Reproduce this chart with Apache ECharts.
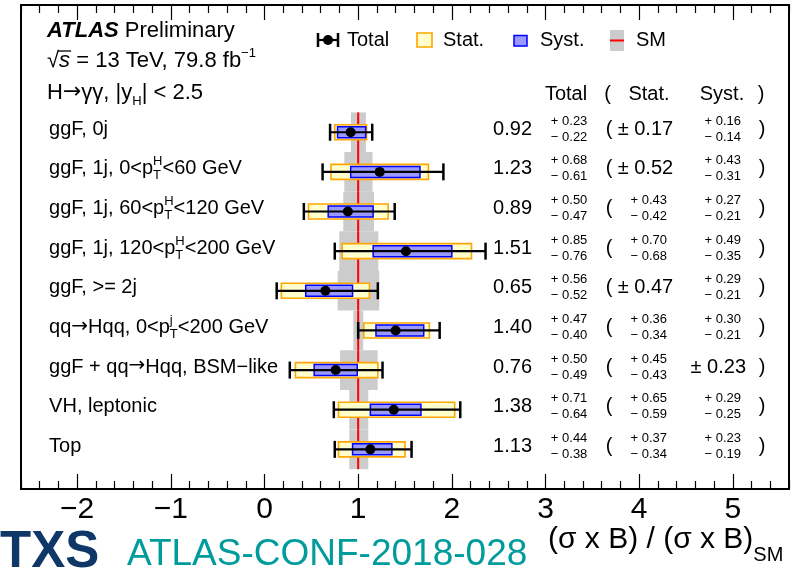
<!DOCTYPE html>
<html><head><meta charset="utf-8">
<script src="https://cdn.jsdelivr.net/npm/echarts@6/dist/echarts.min.js"></script>
<style>html,body{margin:0;padding:0;background:#fff}#c{width:801px;height:571px}</style>
</head><body><div id="c"></div>
<script>
// ---------------- data ----------------
const categories = ["ggF, 0j", "ggF, 1j, 0<p_T^H<60 GeV", "ggF, 1j, 60<p_T^H<120 GeV",
  "ggF, 1j, 120<p_T^H<200 GeV", "ggF, >= 2j", "qq\u2192Hqq, 0<p_T^j<200 GeV",
  "ggF + qq\u2192Hqq, BSM\u2212like", "VH, leptonic", "Top"];
const central = [0.92, 1.23, 0.89, 1.51, 0.65, 1.40, 0.76, 1.38, 1.13];
const totUp  = [0.23, 0.68, 0.50, 0.85, 0.56, 0.47, 0.50, 0.71, 0.44];
const totDn  = [0.22, 0.61, 0.47, 0.76, 0.52, 0.40, 0.49, 0.64, 0.38];
const statUp = [0.17, 0.52, 0.43, 0.70, 0.47, 0.36, 0.45, 0.65, 0.37];
const statDn = [0.17, 0.52, 0.42, 0.68, 0.47, 0.34, 0.43, 0.59, 0.34];
const systUp = [0.16, 0.43, 0.27, 0.49, 0.29, 0.30, 0.23, 0.29, 0.23];
const systDn = [0.14, 0.31, 0.21, 0.35, 0.21, 0.21, 0.23, 0.25, 0.19];
const smLo = [0.923, 0.852, 0.841, 0.798, 0.781, 0.948, 0.806, 0.905, 0.905];
const smHi = [1.083, 1.153, 1.169, 1.215, 1.225, 1.054, 1.208, 1.108, 1.108];
const majorTicks = [-2, -1, 0, 1, 2, 3, 4, 5];
const xMin = -2.6, xMax = 5.6;

// ---------------- helpers ----------------
const FF = '"Liberation Sans", Arial, Helvetica, sans-serif';
const AF = '"DejaVu Sans", sans-serif';
const N = categories.length;
const rowPos = categories.map((c, i) => N - i);
const minorTicks = [];
for (let k = -13; k <= 28; k++) { if (k % 5 !== 0) minorTicks.push(+(k * 0.2).toFixed(1)); }
const ctx = document.createElement('canvas').getContext('2d');
function fnt(size, weight, style, fam) { return (style || 'normal') + ' ' + (weight || 'normal') + ' ' + size + 'px ' + (fam || FF); }
function tw(t, size, weight, style, fam) { ctx.font = fnt(size, weight, style, fam); return ctx.measureText(t).width; }
function textEl(t, x, y, size, opt) {
  opt = opt || {};
  return { type: 'text', x: x, y: y, z2: 10, style: { text: t, x: 0, y: 0, fill: opt.color || '#000',
    font: fnt(size, opt.weight, opt.style, opt.fam), textAlign: opt.align || 'left', textVerticalAlign: 'middle' } };
}
function rich(parts, x0, y0, color) {
  const els = []; let x = x0;
  parts.forEach(p => {
    if (p.sup !== undefined) {
      els.push(textEl(p.sup, x, y0 + p.supDy, p.size, { color }));
      els.push(textEl(p.sub, x, y0 + p.subDy, p.size, { color }));
      x += Math.max(tw(p.sup, p.size), tw(p.sub, p.size));
    } else {
      els.push(textEl(p.t, x, y0 + (p.dy || 0), p.size, { weight: p.weight, style: p.style, color, fam: p.fam }));
      x += tw(p.t, p.size, p.weight, p.style, p.fam);
    }
  });
  return els;
}
// split plain text so arrows use a font with a proper long arrow
function plain(t, size) {
  const out = [];
  t.split(/(\u2192)/).forEach(s => {
    if (!s) return;
    if (s === '\u2192') out.push({ t: s, size: size, fam: AF, dy: -1 });
    else out.push({ t: s, size: size });
  });
  return out;
}
const CAT_FS = 20;
function catParts(label) {
  const m = label.split(/p_T\^(\w)/);
  if (m.length === 1) return plain(label, CAT_FS);
  return [...plain(m[0] + 'p', CAT_FS), { sup: m[1], sub: 'T', size: 13, supDy: -7, subDy: 7 }, ...plain(m[2], CAT_FS)];
}
function fmt(v) { return v.toFixed(2); }

// layout (data-unit x positions of text columns)
const COL = { label: -2.30, val: 2.856, tot: 3.447, open: 3.678, statPm: 4.363, stat: 4.297,
  systPm: 5.141, syst: 5.087, close: 5.312 };

const chart = echarts.init(document.getElementById('c'), null, { renderer: 'canvas' });

function axis(pos, ticks, len, labels) {
  return {
    type: 'value', min: xMin, max: xMax, position: pos,
    axisLine: { show: true, onZero: false, lineStyle: { color: '#000', width: 2 } },
    axisTick: { show: true, inside: true, length: len, customValues: ticks, lineStyle: { color: '#000', width: 1.2 } },
    axisLabel: labels ? { show: true, customValues: ticks, margin: 6, fontSize: 30, color: '#000', fontFamily: FF,
      formatter: v => (v < 0 ? '\u2212' : '') + Math.abs(v) } : { show: false },
    splitLine: { show: false }
  };
}

const rowData = categories.map((c, i) => [rowPos[i], i]);

const option = {
  animation: false,
  backgroundColor: '#fff',
  grid: { left: 21, right: 12, top: 5, bottom: 82, show: true, borderColor: '#000', borderWidth: 2 },
  xAxis: [axis('bottom', majorTicks, 15, true), axis('bottom', minorTicks, 8, false),
          axis('top', majorTicks, 15, false), axis('top', minorTicks, 8, false)],
  yAxis: { type: 'value', min: 0, max: 12.21, show: false },
  series: [
    { // SM theory band
      type: 'custom', z: 1,
      data: categories.map((c, i) => [rowPos[i], smLo[i], smHi[i]]),
      renderItem: (params, api) => {
        const y = api.value(0);
        const a = api.coord([api.value(1), y + 0.5]), b = api.coord([api.value(2), y - 0.5]);
        return { type: 'rect', shape: { x: a[0], y: a[1], width: b[0] - a[0], height: b[1] - a[1] },
          style: { fill: '#cccccc' } };
      }
    },
    { // SM line
      type: 'custom', z: 2,
      data: categories.map((c, i) => [rowPos[i], 1]),
      renderItem: (params, api) => {
        const y = api.value(0);
        const a = api.coord([api.value(1), y + 0.5]), b = api.coord([api.value(1), y - 0.5]);
        return { type: 'line', shape: { x1: a[0], y1: a[1], x2: b[0], y2: b[1] },
          style: { stroke: '#ff0000', lineWidth: 2 } };
      }
    },
    { // stat boxes
      type: 'custom', z: 3,
      data: categories.map((c, i) => [rowPos[i], central[i] - statDn[i], central[i] + statUp[i]]),
      renderItem: (params, api) => {
        const y = api.value(0);
        const a = api.coord([api.value(1), y]), b = api.coord([api.value(2), y]);
        return { type: 'rect', shape: { x: a[0], y: a[1] - 7.5, width: b[0] - a[0], height: 15 },
          style: { fill: '#ffffcc', stroke: '#ffa500', lineWidth: 1.6 } };
      }
    },
    { // syst boxes
      type: 'custom', z: 4,
      data: categories.map((c, i) => [rowPos[i], central[i] - systDn[i], central[i] + systUp[i]]),
      renderItem: (params, api) => {
        const y = api.value(0);
        const a = api.coord([api.value(1), y]), b = api.coord([api.value(2), y]);
        return { type: 'rect', shape: { x: a[0], y: a[1] - 5.5, width: b[0] - a[0], height: 11 },
          style: { fill: '#9999ff', stroke: '#0000ff', lineWidth: 1.5 } };
      }
    },
    { // total error bars
      type: 'custom', z: 5,
      data: categories.map((c, i) => [rowPos[i], central[i] - totDn[i], central[i] + totUp[i]]),
      renderItem: (params, api) => {
        const y = api.value(0);
        const a = api.coord([api.value(1), y]), b = api.coord([api.value(2), y]);
        const st = { stroke: '#000', lineWidth: 2.2 };
        return { type: 'group', children: [
          { type: 'line', shape: { x1: a[0], y1: a[1], x2: b[0], y2: b[1] }, style: st },
          { type: 'line', shape: { x1: a[0], y1: a[1] - 8.5, x2: a[0], y2: a[1] + 8.5 }, style: { stroke: '#000', lineWidth: 2.5 } },
          { type: 'line', shape: { x1: b[0], y1: b[1] - 8.5, x2: b[0], y2: b[1] + 8.5 }, style: { stroke: '#000', lineWidth: 2.5 } }
        ] };
      }
    },
    { // central values
      type: 'scatter', z: 6, symbol: 'circle', symbolSize: 10,
      itemStyle: { color: '#000', opacity: 1 },
      data: categories.map((c, i) => [central[i], rowPos[i]])
    },
    { // row texts
      type: 'custom', z: 7,
      data: rowData,
      renderItem: (params, api) => {
        const i = api.value(1);
        const yc = api.coord([0, api.value(0)])[1] - 3;
        const X = k => api.coord([COL[k], 0])[0];
        const ch = [];
        ch.push(...rich(catParts(categories[i]), X('label'), yc));
        ch.push(textEl(fmt(central[i]), X('val'), yc, 20, { align: 'right' }));
        const pair = (up, dn, x) => {
          ch.push(textEl('+ ' + fmt(up), x, yc - 8, 13, { align: 'right' }));
          ch.push(textEl('\u2212 ' + fmt(dn), x, yc + 8, 13, { align: 'right' }));
        };
        pair(totUp[i], totDn[i], X('tot'));
        ch.push(textEl('(', X('open'), yc, 20, { align: 'center' }));
        if (statUp[i] === statDn[i]) ch.push(textEl('\u00b1 ' + fmt(statUp[i]), X('statPm'), yc, 20, { align: 'right' }));
        else pair(statUp[i], statDn[i], X('stat'));
        if (systUp[i] === systDn[i]) ch.push(textEl('\u00b1 ' + fmt(systUp[i]), X('systPm'), yc, 20, { align: 'right' }));
        else pair(systUp[i], systDn[i], X('syst'));
        ch.push(textEl(')', X('close'), yc, 20, { align: 'center' }));
        return { type: 'group', children: ch };
      }
    }
  ],
  graphic: { elements: [] }
};

// static annotations
const g = [];
g.push(...rich([{ t: 'ATLAS', size: 22, weight: 'bold', style: 'italic' }, { t: ' Preliminary', size: 22 }], 47, 31));
const sqrtParts = [{ t: '\u221a', size: 22 }, { t: 's', size: 22, style: 'italic' }, { t: ' = 13 TeV, 79.8 fb', size: 22 }, { t: '\u22121', size: 13, dy: -8 }];
g.push(...rich(sqrtParts, 47, 61));
const wSq = tw('\u221a', 22), wS = tw('s', 22, 'normal', 'italic');
g.push({ type: 'line', shape: { x1: 47 + wSq - 1, y1: 51, x2: 47 + wSq + wS + 1, y2: 51 }, style: { stroke: '#000', lineWidth: 1.3 } });
g.push(...rich([{ t: 'H', size: 22 }, { t: '\u2192', size: 22, fam: AF, dy: -1 }, { t: '\u03b3\u03b3, |y', size: 22 }, { t: 'H', size: 13, dy: 8 }, { t: '| < 2.5', size: 22 }], 47, 93));
// legend
g.push({ type: 'line', shape: { x1: 318, y1: 40, x2: 338, y2: 40 }, style: { stroke: '#000', lineWidth: 2.2 } });
g.push({ type: 'line', shape: { x1: 318, y1: 33, x2: 318, y2: 47 }, style: { stroke: '#000', lineWidth: 2.5 } });
g.push({ type: 'line', shape: { x1: 338, y1: 33, x2: 338, y2: 47 }, style: { stroke: '#000', lineWidth: 2.5 } });
g.push({ type: 'circle', shape: { cx: 328, cy: 40, r: 5 }, style: { fill: '#000' } });
g.push(textEl('Total', 347, 40, 20));
g.push({ type: 'rect', shape: { x: 417, y: 33, width: 15, height: 14 }, style: { fill: '#ffffcc', stroke: '#ffa500', lineWidth: 1.6 } });
g.push(textEl('Stat.', 443, 40, 20));
g.push({ type: 'rect', shape: { x: 514, y: 35.5, width: 13, height: 10.5 }, style: { fill: '#9999ff', stroke: '#0000ff', lineWidth: 1.5 } });
g.push(textEl('Syst.', 540, 40, 20));
g.push({ type: 'rect', shape: { x: 610, y: 30, width: 14, height: 21 }, style: { fill: '#cccccc' } });
g.push({ type: 'line', shape: { x1: 610, y1: 40.5, x2: 624, y2: 40.5 }, style: { stroke: '#ff0000', lineWidth: 2 } });
g.push(textEl('SM', 636, 40, 20));
// header
g.push(textEl('Total', 566, 94, 20, { align: 'center' }));
g.push(textEl('(', 607.5, 94, 20, { align: 'center' }));
g.push(textEl('Stat.', 649, 94, 20, { align: 'center' }));
g.push(textEl('Syst.', 722, 94, 20, { align: 'center' }));
g.push(textEl(')', 761, 94, 20, { align: 'center' }));
// axis title
g.push(...rich([{ t: '(\u03c3 x B) / (\u03c3 x B)', size: 30 }, { t: 'SM', size: 20, dy: 15 }], 548, 540));
// footer
g.push(textEl('TXS', 0, 553, 51, { weight: 'bold', color: '#0f3868' }));
g.push(textEl('ATLAS-CONF-2018-028', 127, 555, 37, { color: '#009b9b' }));
option.graphic.elements = g;

chart.setOption(option);
</script>
</body></html>
